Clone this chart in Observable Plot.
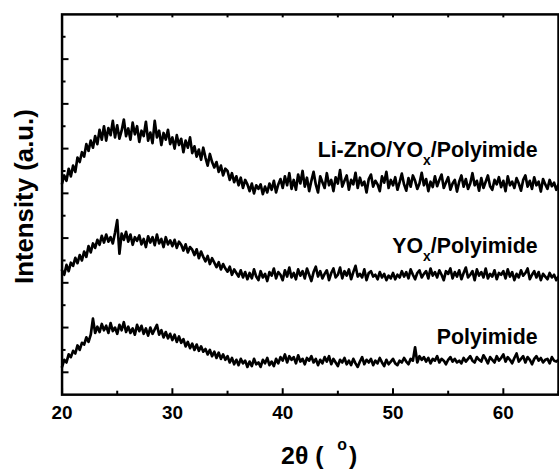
<!DOCTYPE html>
<html>
<head>
<meta charset="utf-8">
<script src="https://cdn.jsdelivr.net/npm/d3@7"></script>
<script src="https://cdn.jsdelivr.net/npm/@observablehq/plot@0.6"></script>
<style>
  html, body { margin: 0; padding: 0; background: #fff; overflow: hidden; }
</style>
</head>
<body>
<div id="chart"></div>
<script>
// 2θ sampling: 20° to 65° every 0.2°
const thetaStart = 20, thetaStep = 0.2;

const liZnO = [
  4.22, 4.40, 4.28, 4.55, 4.38,  4.62, 4.48, 4.80, 4.70, 4.92,  4.82, 5.10, 4.95, 5.18, 5.02,
  5.28, 5.10, 5.42, 5.20, 5.50,  5.18, 5.46, 5.30, 5.62, 5.25,  5.52, 5.22, 5.40, 5.65, 5.28,
  5.45, 5.20, 5.58, 5.32, 5.50,  5.15, 5.40, 5.28, 5.60, 5.18,  5.36, 5.12, 5.62, 5.25, 5.40,
  5.08, 5.35, 5.20, 5.42, 5.10,  5.25, 5.00, 5.30, 5.08, 5.22,  4.92, 5.18, 5.02, 5.25, 4.90,
  5.05, 4.82, 4.98, 4.75, 5.02,  4.80, 4.62, 4.88, 4.70, 4.58,  4.70, 4.48, 4.62, 4.40, 4.55,
  4.50, 4.30, 4.45, 4.25, 4.38,  4.18, 4.35, 4.12, 4.30, 4.20,  4.05, 4.22, 4.00, 4.18, 4.10,
  4.20, 3.98, 4.15, 4.02, 4.22,  4.08, 4.28, 4.02, 4.20, 4.32,  4.12, 4.38, 4.18, 4.45, 4.10,
  4.30, 4.08, 4.42, 4.22, 4.50,  4.15, 4.35, 4.05, 4.28, 4.48,  4.20, 4.02, 4.38, 4.25, 4.12,
  4.45, 4.18, 4.30, 4.05, 4.36,  4.22, 4.52, 4.15, 4.28, 4.40,  4.08, 4.30, 4.20, 4.46, 4.12,
  4.35, 4.18, 4.26, 4.02, 4.32,  4.42, 4.15, 4.28, 4.20, 4.05,  4.38, 4.24, 4.48, 4.12, 4.30,
  4.18, 4.36, 4.08, 4.25, 4.44,  4.20, 4.06, 4.34, 4.15, 4.40,  4.28, 4.10, 4.22, 4.46, 4.18,
  4.32, 4.05, 4.26, 4.14, 4.38,  4.16, 4.30, 4.42, 4.12, 4.24,  4.36, 4.08, 4.22, 4.30, 4.04,
  4.26, 4.40, 4.15, 4.32, 4.10,  4.22, 4.45, 4.18, 4.28, 4.06,  4.34, 4.12, 4.26, 4.40, 4.16,
  4.08, 4.30, 4.20, 4.36, 4.14,  4.28, 4.05, 4.38, 4.18, 4.26,  4.12, 4.34, 4.22, 4.06, 4.30,
  4.40, 4.15, 4.28, 4.10, 4.36,  4.18, 4.26, 4.04, 4.32, 4.20,  4.10, 4.30, 4.16, 4.24, 4.08,
  4.20
];

const yox = [
  2.28, 2.18, 2.40, 2.26, 2.45,  2.38, 2.56, 2.44, 2.62, 2.50,  2.70, 2.58, 2.82, 2.68, 2.88,
  2.78, 2.96, 2.85, 3.05, 2.90,  3.08, 2.92, 3.02, 2.88, 3.12,  3.40, 2.65, 3.10, 2.96, 3.14,
  2.92, 3.08, 2.85, 3.02, 2.94,  3.06, 2.86, 2.98, 2.80, 3.04,  2.90, 3.02, 2.84, 3.08, 2.88,
  2.98, 2.80, 3.02, 2.86, 2.95,  2.82, 2.96, 2.78, 2.92, 2.85,  2.72, 2.86, 2.68, 2.80, 2.74,
  2.62, 2.75, 2.55, 2.70, 2.58,  2.48, 2.60, 2.42, 2.55, 2.45,  2.35, 2.46, 2.30, 2.42, 2.32,
  2.25, 2.36, 2.18, 2.30, 2.22,  2.14, 2.28, 2.12, 2.24, 2.08,  2.22, 2.10, 2.30, 2.14, 2.06,
  2.26, 2.12, 2.20, 2.04, 2.24,  2.16, 2.32, 2.10, 2.24, 2.18,  2.06, 2.28, 2.14, 2.34, 2.12,
  2.22, 2.08, 2.30, 2.16, 2.26,  2.10, 2.32, 2.18, 2.04, 2.24,  2.36, 2.14, 2.26, 2.10, 2.20,
  2.28, 2.06, 2.22, 2.32, 2.12,  2.18, 2.34, 2.10, 2.26, 2.16,  2.30, 2.08, 2.24, 2.38, 2.14,
  2.20, 2.12, 2.30, 2.06, 2.22,  2.26, 2.14, 2.18, 2.08, 2.24,  2.12, 2.20, 2.06, 2.16, 2.10,
  2.22, 2.08, 2.18, 2.12, 2.26,  2.14, 2.24, 2.10, 2.30, 2.18,  2.08, 2.22, 2.28, 2.12, 2.20,
  2.26, 2.10, 2.32, 2.16, 2.24,  2.12, 2.28, 2.18, 2.06, 2.26,  2.20, 2.32, 2.10, 2.24, 2.14,
  2.28, 2.08, 2.22, 2.34, 2.12,  2.18, 2.26, 2.06, 2.30, 2.16,  2.24, 2.12, 2.32, 2.10, 2.20,
  2.14, 2.28, 2.08, 2.22, 2.18,  2.26, 2.10, 2.30, 2.14, 2.24,  2.06, 2.20, 2.12, 2.28, 2.16,
  2.22, 2.32, 2.08, 2.18, 2.26,  2.12, 2.24, 2.06, 2.20, 2.14,  2.08, 2.22, 2.12, 2.18, 2.06,
  2.14
];

const polyimide = [
  0.12, 0.28, 0.22, 0.40, 0.34,  0.48, 0.42, 0.60, 0.50, 0.66,  0.62, 0.78, 0.68, 0.84, 1.20,
  0.88, 1.02, 0.90, 1.08, 0.94,  1.04, 0.88, 1.10, 0.92, 1.00,  0.86, 1.06, 0.94, 1.12, 0.90,
  1.02, 0.88, 0.98, 0.84, 1.06,  0.92, 1.04, 0.86, 0.98, 0.82,  1.00, 0.86, 0.96, 1.06, 0.84,
  0.94, 0.78, 0.90, 0.76, 0.86,  0.72, 0.84, 0.68, 0.80, 0.66,  0.74, 0.58, 0.68, 0.54, 0.64,
  0.50, 0.62, 0.48, 0.58, 0.46,  0.52, 0.40, 0.50, 0.36, 0.46,  0.32, 0.44, 0.30, 0.40, 0.28,
  0.36, 0.22, 0.32, 0.18, 0.28,  0.16, 0.30, 0.20, 0.26, 0.12,  0.24, 0.14, 0.30, 0.18, 0.22,
  0.12, 0.28, 0.20, 0.32, 0.16,  0.24, 0.14, 0.30, 0.20, 0.34,  0.26, 0.40, 0.22, 0.36, 0.28,
  0.34, 0.20, 0.38, 0.24, 0.30,  0.18, 0.32, 0.26, 0.36, 0.22,  0.30, 0.16, 0.28, 0.20, 0.34,
  0.24, 0.36, 0.18, 0.30, 0.22,  0.14, 0.28, 0.22, 0.32, 0.18,  0.26, 0.16, 0.30, 0.20, 0.12,
  0.24, 0.34, 0.18, 0.28, 0.22,  0.30, 0.16, 0.26, 0.20, 0.32,  0.22, 0.14, 0.28, 0.18, 0.24,
  0.30, 0.20, 0.16, 0.26, 0.22,  0.32, 0.24, 0.18, 0.30, 0.26,  0.56, 0.22, 0.36, 0.28, 0.34,
  0.24, 0.32, 0.20, 0.30, 0.26,  0.36, 0.22, 0.30, 0.26, 0.18,  0.28, 0.34, 0.24, 0.30, 0.22,
  0.26, 0.20, 0.32, 0.24, 0.30,  0.36, 0.26, 0.22, 0.34, 0.28,  0.24, 0.38, 0.30, 0.20, 0.34,
  0.28, 0.22, 0.36, 0.26, 0.32,  0.40, 0.24, 0.34, 0.28, 0.20,  0.32, 0.42, 0.24, 0.30, 0.36,
  0.22, 0.34, 0.28, 0.18, 0.30,  0.36, 0.26, 0.32, 0.22, 0.28,  0.30, 0.20, 0.34, 0.26, 0.24,
  0.28
];

// series labels (text, right end in 2θ, baseline in intensity units)
const seriesLabels = ["Li-ZnO/YO_x/Polyimide", "YO_x/Polyimide", "Polyimide"];
const labelX = [63.1, 63.1, 63.1];
const labelY = [4.82, 2.67, 0.63];

// ticks
const xTickLabels = [20, 30, 40, 50, 60];
const xMinorTicks = [25, 35, 45, 55, 65];
const xTopTicks = [25, 30, 35, 40, 45, 50, 55, 60];
const yMajorTicks = [0, 1, 2, 3, 4, 5, 6, 7];
const yMinorTicks = [0.5, 1.5, 2.5, 3.5, 4.5, 5.5, 6.5, 7.5];

const xTitle = "2θ (^o)";
const yTitle = "Intensity (a.u.)";

// build table
const rows = liZnO.map((v, i) => ({
  theta: thetaStart + i * thetaStep,
  li: v,
  yo: yox[i],
  pi: polyimide[i]
}));
const labelRows = seriesLabels.map((t, i) => ({t, x: labelX[i], y: labelY[i]}));

const width = 563, height = 474;
const mL = 62, mR = 1, mT = 14, mB = 77;
const fw = width - mL - mR, fh = height - mT - mB;

const svg = Plot.plot({
  width, height,
  marginLeft: mL, marginRight: mR, marginTop: mT, marginBottom: mB,
  style: {fontFamily: "'Liberation Sans', Arial, Helvetica, sans-serif", background: "#fff", color: "#000"},
  x: {domain: [20, 65], axis: null},
  y: {domain: [-0.5, 8], axis: null},
  marks: [
    Plot.tickX(xTickLabels, {x: d => d, insetTop: fh - 6, stroke: "#000", strokeWidth: 2}),
    Plot.tickX(xMinorTicks, {x: d => d, insetTop: fh - 3.5, stroke: "#000", strokeWidth: 2}),
    Plot.tickX(xTopTicks, {x: d => d, insetBottom: fh - 3.5, stroke: "#000", strokeWidth: 2}),
    Plot.tickY(yMajorTicks, {y: d => d, insetRight: fw - 7, stroke: "#000", strokeWidth: 2}),
    Plot.tickY(yMinorTicks, {y: d => d, insetRight: fw - 4, stroke: "#000", strokeWidth: 2}),
    Plot.line(rows, {x: "theta", y: "li", stroke: "#000", strokeWidth: 2.7, strokeLinejoin: "round"}),
    Plot.line(rows, {x: "theta", y: "yo", stroke: "#000", strokeWidth: 2.7, strokeLinejoin: "round"}),
    Plot.line(rows, {x: "theta", y: "pi", stroke: "#000", strokeWidth: 2.7, strokeLinejoin: "round"}),
    Plot.frame({stroke: "#000", strokeWidth: 2.5}),
    Plot.text(labelRows, {x: "x", y: "y", text: "t", textAnchor: "end", lineAnchor: "bottom",
      fontSize: 21.5, fontWeight: "bold", fill: "#000"}),
    Plot.text(xTickLabels, {x: d => d, text: d => String(d), frameAnchor: "bottom", lineAnchor: "top",
      dy: 11, fontSize: 19, fontWeight: "bold", fill: "#000"}),
    Plot.text([xTitle], {frameAnchor: "bottom", textAnchor: "middle", lineAnchor: "bottom", dy: 70, dx: 9,
      fontSize: 25, fontWeight: "bold", fill: "#000"}),
    Plot.text([yTitle], {frameAnchor: "left", textAnchor: "middle", rotate: -90, dx: -38, dy: -8,
      fontSize: 26, fontWeight: "bold", fill: "#000"})
  ]
});

// subscripts / superscripts
d3.select(svg).selectAll("text").each(function () {
  const s = this.textContent;
  if (!s.includes("_x") && !s.includes("^o")) return;
  const parts = s.split(/(_x|\^o)/);
  const sel = d3.select(this);
  this.textContent = "";
  let shift = 0, gap = 0;
  parts.forEach(p => {
    if (p === "") return;
    if (p === "_x") {
      sel.append("tspan").attr("font-size", 14).attr("dy", 8).text("x");
      shift = -8; gap = 0;
    } else if (p === "^o") {
      sel.append("tspan").attr("font-size", 16).attr("dy", -14).attr("dx", 14).text("o");
      shift = 14; gap = 2;
    } else {
      const t = sel.append("tspan").text(p);
      if (shift) t.attr("dy", shift);
      if (gap) t.attr("dx", gap);
      shift = 0; gap = 0;
    }
  });
});

document.getElementById("chart").appendChild(svg);
</script>
</body>
</html>
